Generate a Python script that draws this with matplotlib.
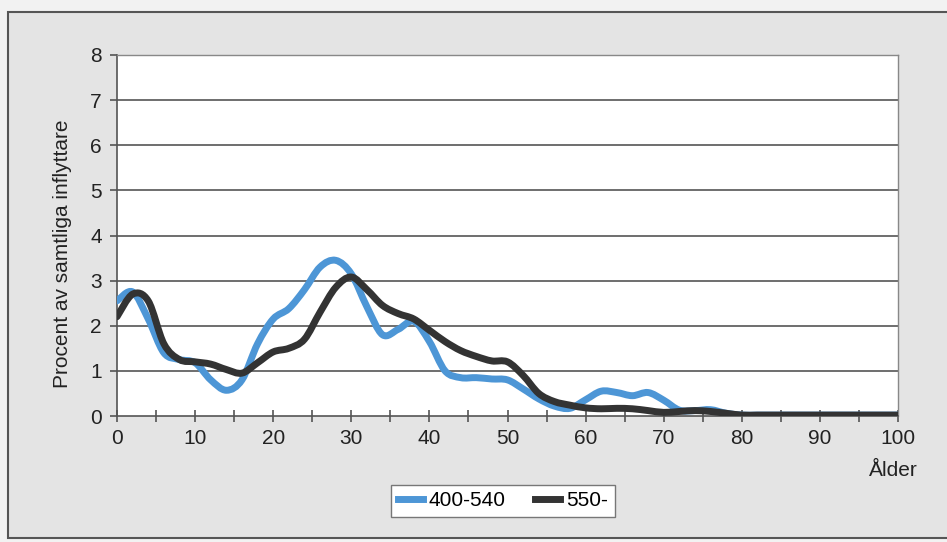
import matplotlib
matplotlib.use("Agg")
import matplotlib.pyplot as plt
from matplotlib.path import Path
from matplotlib.patches import PathPatch, Rectangle
from matplotlib.lines import Line2D
import numpy as np

plt.rcParams["font.family"] = ["Liberation Sans", "DejaVu Sans"]

ages = list(range(0, 101, 2))
s400 = [2.55, 2.75, 2.15, 1.40, 1.25, 1.18, 0.80, 0.57, 0.80, 1.60,
        2.15, 2.38, 2.80, 3.30, 3.45, 3.15, 2.42, 1.80, 1.92, 2.10,
        1.65, 1.00, 0.85, 0.85, 0.82, 0.80, 0.60, 0.38, 0.22, 0.17,
        0.36, 0.55, 0.52, 0.45, 0.52, 0.35, 0.13, 0.12, 0.14, 0.06,
        0.02, 0.02, 0.02, 0.02, 0.02, 0.02, 0.02, 0.02, 0.02, 0.02, 0.02]
s550 = [2.20, 2.70, 2.55, 1.60, 1.25, 1.20, 1.15, 1.03, 0.95, 1.18,
        1.42, 1.50, 1.70, 2.30, 2.85, 3.08, 2.80, 2.45, 2.27, 2.15,
        1.90, 1.65, 1.45, 1.32, 1.22, 1.20, 0.90, 0.50, 0.32, 0.24,
        0.18, 0.16, 0.17, 0.16, 0.12, 0.08, 0.10, 0.12, 0.10, 0.06,
        0.02, 0.02, 0.02, 0.02, 0.02, 0.02, 0.02, 0.02, 0.02, 0.02, 0.02]
labels = ["400-540", "550-"]
colors = ["#4d96d6", "#333333"]
xticks = list(range(0, 101, 10))
yticks = list(range(0, 9))


def smooth_path(x, y, t=1/6):
    x = np.asarray(x, float); y = np.asarray(y, float)
    verts = [(x[0], y[0])]
    codes = [Path.MOVETO]
    n = len(x)
    for i in range(n - 1):
        p0 = np.array([x[max(i - 1, 0)], y[max(i - 1, 0)]])
        p1 = np.array([x[i], y[i]])
        p2 = np.array([x[i + 1], y[i + 1]])
        p3 = np.array([x[min(i + 2, n - 1)], y[min(i + 2, n - 1)]])
        c1 = p1 + (p2 - p0) * t
        c2 = p2 - (p3 - p1) * t
        verts += [tuple(c1), tuple(c2), tuple(p2)]
        codes += [Path.CURVE4] * 3
    return Path(verts, codes)


FS = 15
fig = plt.figure(figsize=(9.47, 5.42), dpi=100)
fig.patch.set_facecolor("#f2f2f2")
fig.patches.append(Rectangle((8 / 947, 1 - 538 / 542), 950 / 947, (538 - 12) / 542,
                             transform=fig.transFigure, facecolor="#e4e4e4",
                             edgecolor="#555555", linewidth=1.5, zorder=-5))

ax = fig.add_axes([117 / 947, 1 - 416 / 542, (898 - 117) / 947, (416 - 55) / 542])
ax.set_zorder(2)
ax.set_facecolor("white")
ax.set_xlim(0, 100)
ax.set_ylim(0, 8)

for yv in yticks[1:]:
    ax.axhline(yv, color="#555555", linewidth=1.2, zorder=1)

for vals, c in zip([s400, s550], colors):
    p = smooth_path(ages, vals)
    ax.add_patch(PathPatch(p, facecolor="none", edgecolor=c, linewidth=5,
                           capstyle="round", joinstyle="round", zorder=3))

ax.set_xticks(xticks)
ax.set_xticks(list(range(5, 100, 10)), minor=True)
ax.set_yticks(yticks)
ax.tick_params(axis="x", which="both", direction="inout", length=9, width=1.2,
               color="#555555", labelsize=FS, pad=5, labelcolor="#222222")
ax.tick_params(axis="y", direction="out", length=5, width=1.2, color="#555555",
               labelsize=FS, pad=6, labelcolor="#222222")
for side in ["top", "right"]:
    ax.spines[side].set_color("#888888")
    ax.spines[side].set_linewidth(1.0)
for side in ["left", "bottom"]:
    ax.spines[side].set_color("#555555")
    ax.spines[side].set_linewidth(1.2)

fig.text(62 / 947, 1 - 254 / 542, "Procent av samtliga inflyttare", rotation=90,
         ha="center", va="center", fontsize=FS, color="#222222")
fig.text(918 / 947, 1 - 470 / 542, "Ålder", ha="right", va="center",
         fontsize=FS, color="#222222")

handles = [Line2D([], [], color=c, linewidth=5) for c in colors]
leg = fig.legend(handles, labels, loc="center", bbox_to_anchor=(503 / 947, 1 - 501 / 542),
                 ncol=2, fontsize=FS, frameon=True, fancybox=False, handlelength=1.2,
                 handletextpad=0.3, columnspacing=1.4, borderpad=0.3, framealpha=1)
leg.get_frame().set_edgecolor("#777777")
leg.get_frame().set_linewidth(1.0)
leg.set_zorder(3)

fig.savefig("out.png", dpi=100, facecolor=fig.get_facecolor())
